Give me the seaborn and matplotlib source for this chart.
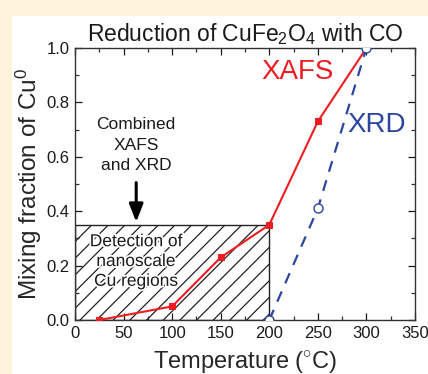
import matplotlib
matplotlib.use("Agg")
import matplotlib.pyplot as plt
import matplotlib.patches as mpatches
import matplotlib.patheffects as pe
from matplotlib.ticker import MultipleLocator, FormatStrFormatter
import seaborn as sns
import pandas as pd

# Cu0 mixing fraction vs reduction temperature
xafs_temp = [25, 100, 150, 200, 250, 300]
xafs_frac = [0.0, 0.05, 0.23, 0.35, 0.73, 1.0]
xrd_temp = [200, 250, 300]
xrd_frac = [0.0, 0.41, 1.0]

# hatched detection region
region_temp = [0, 200]
region_frac = [0.0, 0.35]

red = "#EE1D23"
blue = "#2C46A0"

sns.set_theme(style="white")
plt.rcParams["font.family"] = ["Liberation Sans", "DejaVu Sans"]
plt.rcParams["mathtext.fontset"] = "custom"
plt.rcParams["mathtext.rm"] = "Liberation Sans"
plt.rcParams["mathtext.it"] = "Liberation Sans"
plt.rcParams["hatch.linewidth"] = 0.9
plt.rcParams["text.color"] = "#1a1a1a"

fig = plt.figure(figsize=(4.28, 3.74), dpi=100, facecolor="#FDF2DA")
# white panel inside the tinted frame
fig.patches.append(mpatches.Rectangle((12 / 428, 0), 1, 1 - 16 / 374,
                                      transform=fig.transFigure,
                                      facecolor="white", edgecolor="none",
                                      zorder=-10))
ax = fig.add_axes([75 / 428, 54 / 374, 340 / 428, 272 / 374])
ax.set_facecolor("none")

ax.add_patch(mpatches.Rectangle((region_temp[0], region_frac[0]),
                                region_temp[1] - region_temp[0],
                                region_frac[1] - region_frac[0],
                                facecolor="none", edgecolor="#222222",
                                hatch="//", linewidth=1.0, zorder=1))

df_xafs = pd.DataFrame({"T": xafs_temp, "f": xafs_frac})
df_xrd = pd.DataFrame({"T": xrd_temp, "f": xrd_frac})
sns.lineplot(data=df_xafs, x="T", y="f", ax=ax, color=red, marker="s",
             markersize=5, markeredgecolor=red, linewidth=1.5, zorder=3)
sns.lineplot(data=df_xrd, x="T", y="f", ax=ax, color=blue, marker="o",
             markersize=6.5, markerfacecolor="white", markeredgecolor=blue,
             markeredgewidth=1.0, linestyle=(0, (5, 4)), linewidth=1.6,
             zorder=4)

ax.set_xlim(0, 350)
ax.set_ylim(0, 1.0)
ax.xaxis.set_major_locator(MultipleLocator(50))
ax.xaxis.set_minor_locator(MultipleLocator(25))
ax.yaxis.set_major_locator(MultipleLocator(0.2))
ax.yaxis.set_minor_locator(MultipleLocator(0.1))
ax.yaxis.set_major_formatter(FormatStrFormatter("%.1f"))
ax.tick_params(which="both", direction="in", top=True, right=True,
               bottom=True, left=True, color="#333333", width=0.9)
ax.tick_params(which="major", length=5, labelsize=12, pad=4, colors="#1a1a1a")
ax.tick_params(which="minor", length=3)
for s in ax.spines.values():
    s.set_color("#333333")
    s.set_linewidth(1.0)

ax.set_xlabel("Temperature ($^{\\circ}$C)", fontsize=17, labelpad=6)
ax.set_ylabel("Mixing fraction of Cu$^0$", fontsize=17.5, labelpad=2)
ax.set_title("Reduction of CuFe$_2$O$_4$ with CO", fontsize=16.5, pad=5)

ax.text(63, 0.643, "Combined\nXAFS\nand XRD", ha="center", va="center",
        fontsize=12.5, linespacing=1.45)
ax.annotate("", xy=(63, 0.36), xytext=(63, 0.505),
            arrowprops=dict(arrowstyle="-|>,head_width=0.35,head_length=0.9",
                            color="black", lw=2.2, shrinkA=0, shrinkB=0))
ax.text(63, 0.215, "Detection of\nnanoscale\nCu regions", ha="center",
        va="center", fontsize=12.5, linespacing=1.4, zorder=2,
        path_effects=[pe.withStroke(linewidth=2.5, foreground="white")])
ax.text(192, 0.91, "XAFS", color=red, fontsize=20, va="center", ha="left")
ax.text(280, 0.717, "XRD", color=blue, fontsize=20, va="center", ha="left")

fig.savefig("out.png", dpi=100, facecolor=fig.get_facecolor())
